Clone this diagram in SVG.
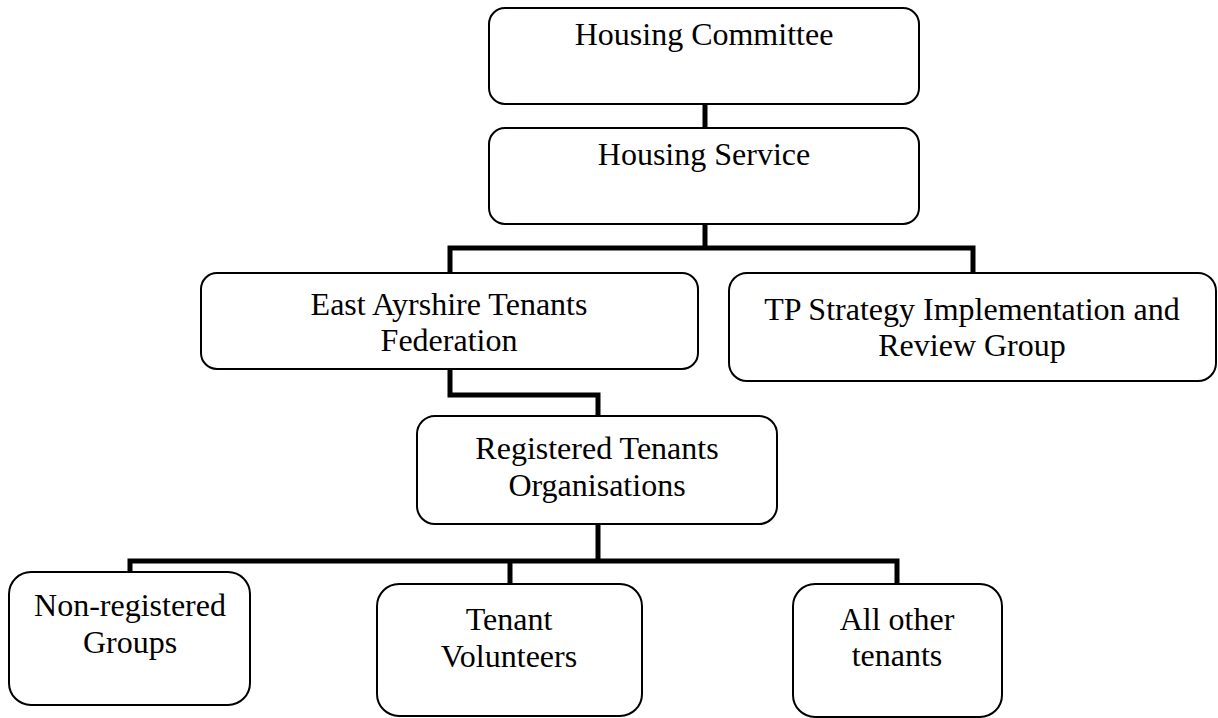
<svg xmlns="http://www.w3.org/2000/svg" width="1218" height="718" viewBox="0 0 1218 718">
<style>
.box{fill:#fff;stroke:#000;stroke-width:2}
.lbl{font-family:"Liberation Serif","Times New Roman",serif;font-size:32px;fill:#000;text-anchor:middle}
.con{fill:none;stroke:#000;stroke-width:5;stroke-linejoin:miter;stroke-linecap:butt}
</style>
<rect width="1218" height="718" fill="#fff"/>
<g id="connectors">
<path class="con" d="M705 104 V128"/>
<path class="con" d="M705 224 V248"/>
<path class="con" d="M450 273 V248 H973 V273"/>
<path class="con" d="M450 369 V395 H598 V416"/>
<path class="con" d="M598 524 V561"/>
<path class="con" d="M130 572 V561 H897 V584"/>
<path class="con" d="M510 561 V584"/>
</g>
<g id="housing-committee">
<rect class="box" x="489" y="8" width="430" height="96" rx="16"/>
<text class="lbl" x="704" y="45">Housing Committee</text>
</g>
<g id="housing-service">
<rect class="box" x="489" y="128" width="430" height="96" rx="16"/>
<text class="lbl" x="704" y="165">Housing Service</text>
</g>
<g id="eatf">
<rect class="box" x="201" y="273" width="497" height="96" rx="16"/>
<text class="lbl" x="449" y="315">East Ayrshire Tenants</text>
<text class="lbl" x="449" y="351">Federation</text>
</g>
<g id="tp-strategy">
<rect class="box" x="729" y="273" width="487" height="108" rx="18"/>
<text class="lbl" x="972" y="320">TP Strategy Implementation and</text>
<text class="lbl" x="972" y="356">Review Group</text>
</g>
<g id="rto">
<rect class="box" x="417" y="416" width="360" height="108" rx="18"/>
<text class="lbl" x="597" y="459">Registered Tenants</text>
<text class="lbl" x="597" y="496">Organisations</text>
</g>
<g id="non-registered">
<rect class="box" x="9" y="572" width="241" height="133" rx="22"/>
<text class="lbl" x="130" y="616">Non-registered</text>
<text class="lbl" x="130" y="653">Groups</text>
</g>
<g id="tenant-volunteers">
<rect class="box" x="377" y="584" width="265" height="132" rx="22"/>
<text class="lbl" x="509" y="630">Tenant</text>
<text class="lbl" x="509" y="667">Volunteers</text>
</g>
<g id="all-other-tenants">
<rect class="box" x="793" y="584" width="209" height="133" rx="22"/>
<text class="lbl" x="897" y="630">All other</text>
<text class="lbl" x="897" y="666">tenants</text>
</g>
</svg>
